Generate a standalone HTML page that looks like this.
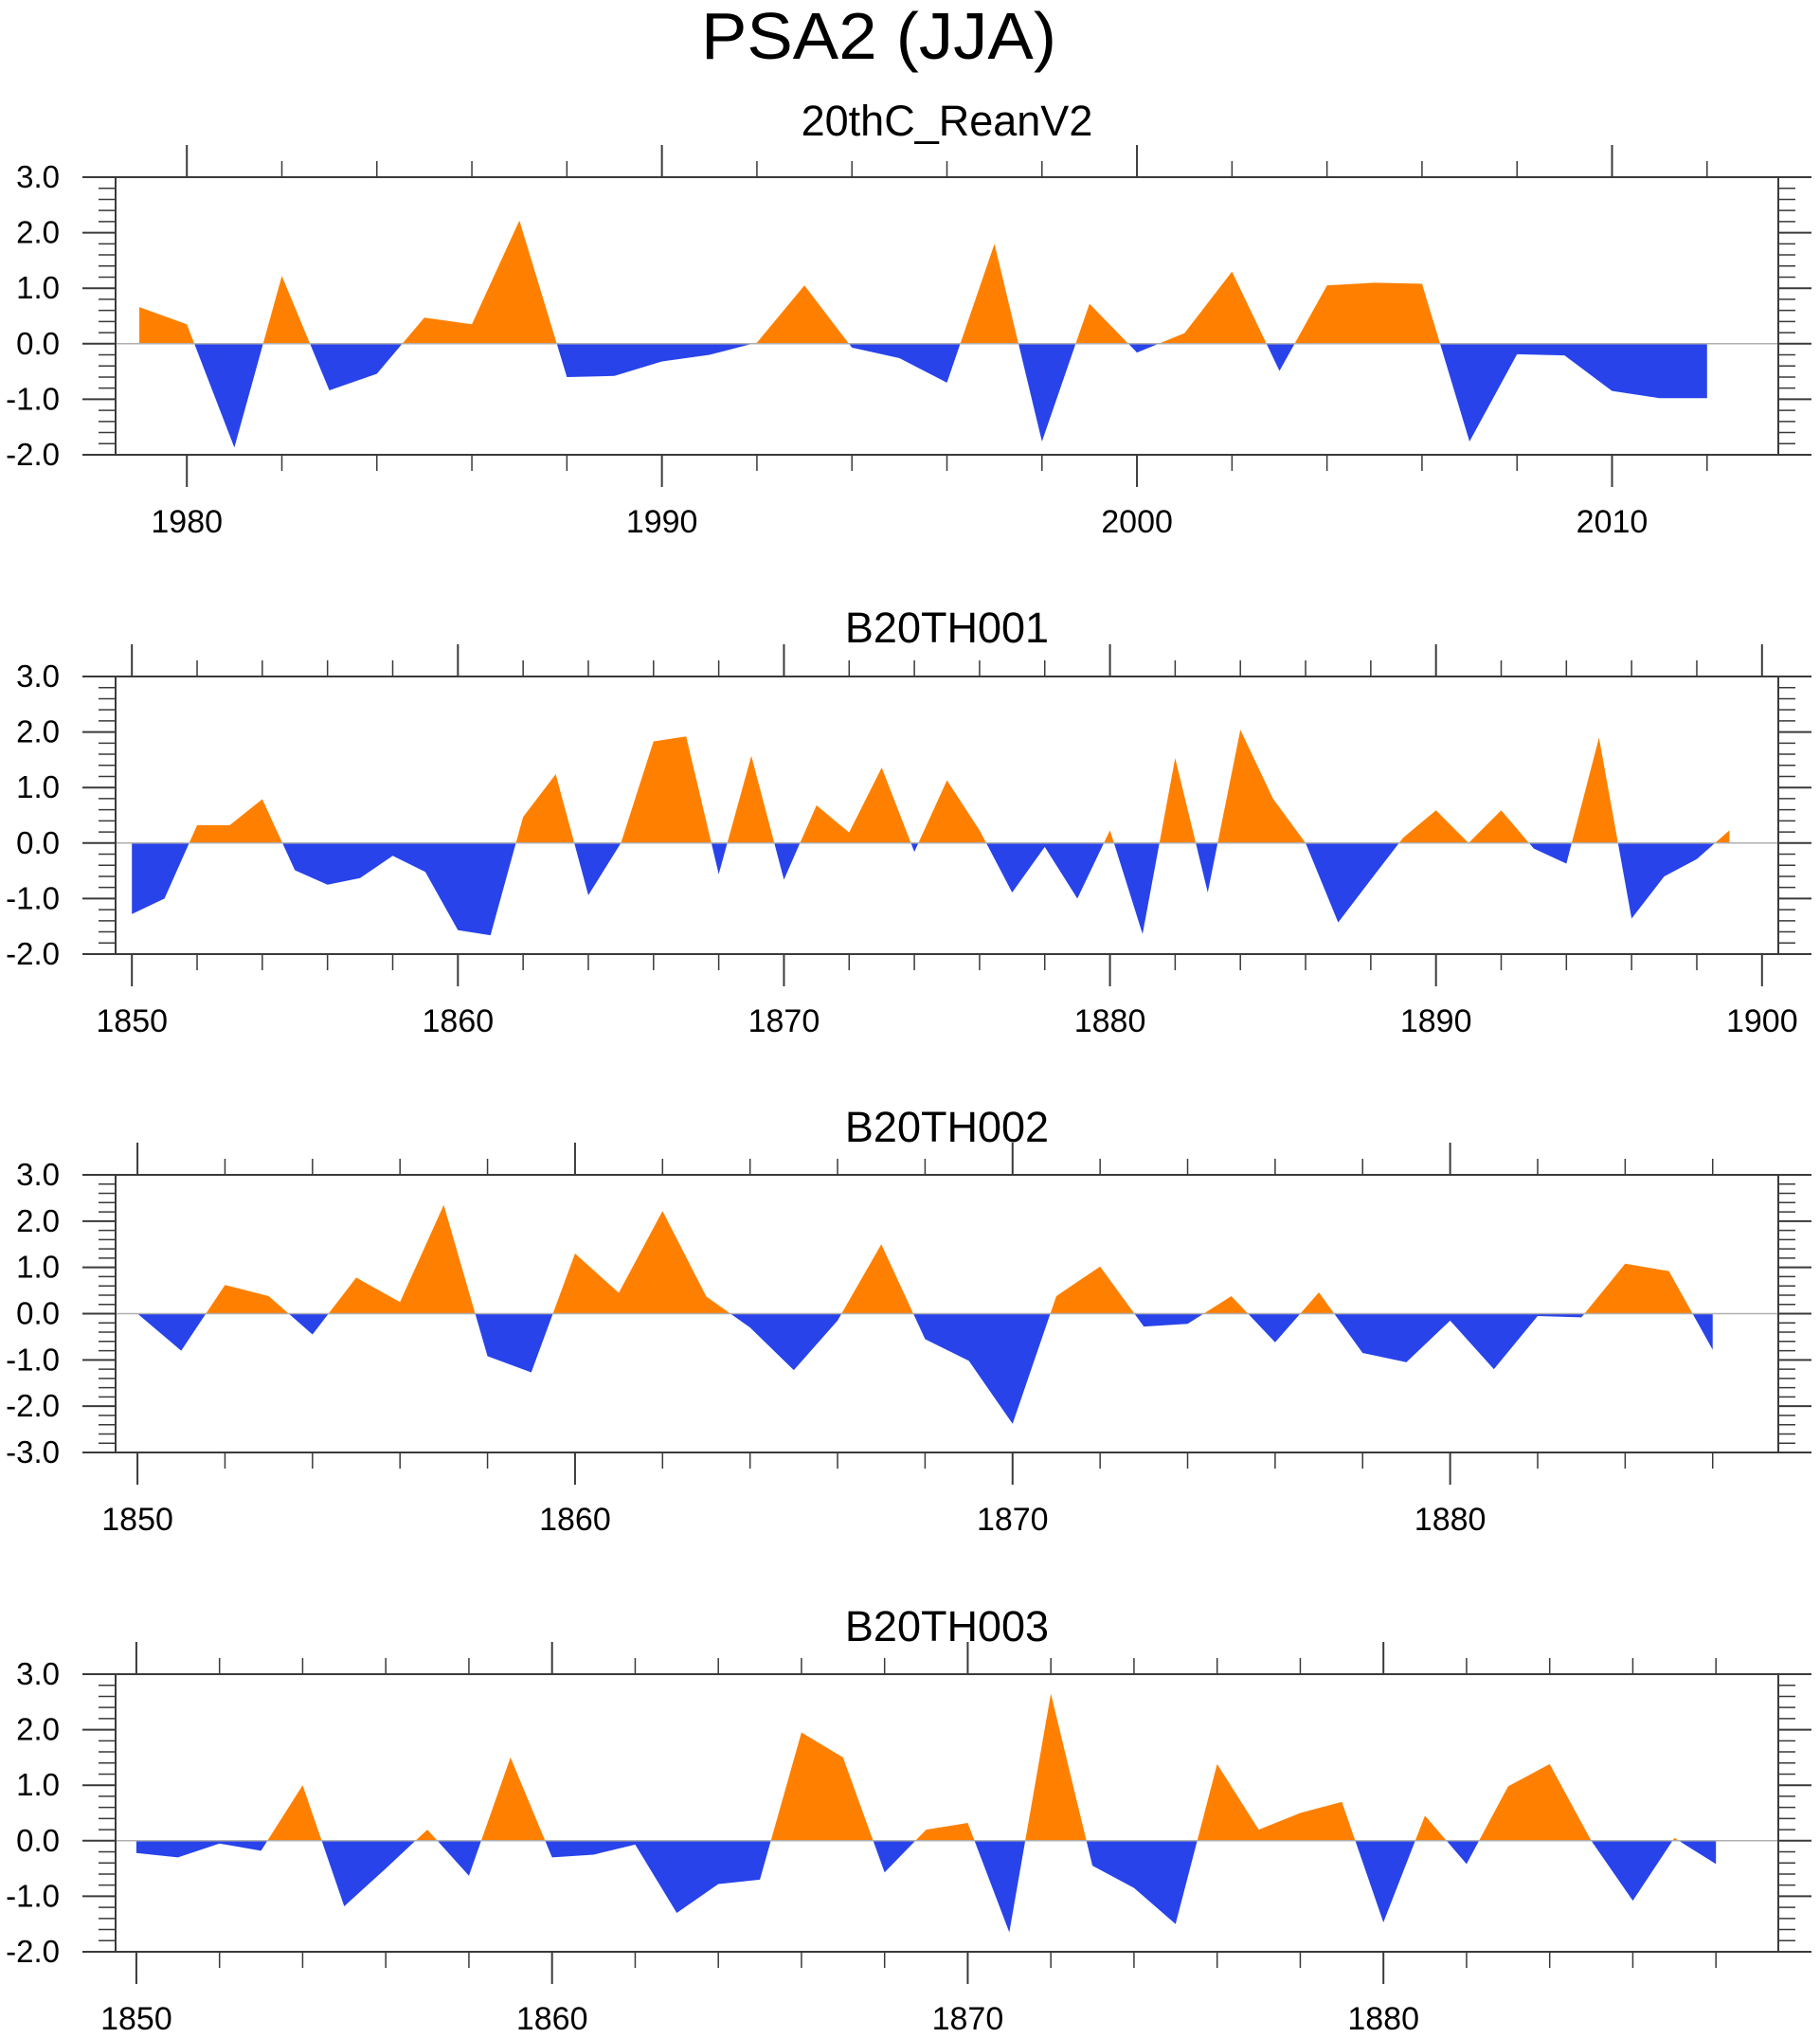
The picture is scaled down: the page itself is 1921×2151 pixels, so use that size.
<!DOCTYPE html>
<html><head><meta charset="utf-8"><title>PSA2 (JJA)</title>
<style>
html,body{margin:0;padding:0;background:#fff;}
svg{display:block;font-family:"Liberation Sans",Arial,sans-serif;}
</style></head>
<body>
<svg id="chart" width="1921" height="2151" viewBox="0 0 1921 2151" xmlns="http://www.w3.org/2000/svg">
<rect width="1921" height="2151" fill="#fff"/>
<text x="740" y="62" font-size="70" textLength="375" lengthAdjust="spacingAndGlyphs" fill="#000">PSA2 (JJA)</text>
</svg>
<script>
// ---- data ----
const titles = ["20thC_ReanV2","B20TH001","B20TH002","B20TH003"];
const startYears = [1979, 1850, 1850, 1850];
const yMins = [-2, -2, -3, -2];
const yMaxs = [3, 3, 3, 3];
const majorYearStep = 10;
const yTickLabels1 = ["-2.0","-1.0","0.0","1.0","2.0","3.0"];
const yTickLabels3 = ["-3.0","-2.0","-1.0","0.0","1.0","2.0","3.0"];
const reanV2 = [0.66,0.35,-1.87,1.22,-0.84,-0.54,0.47,0.35,2.22,-0.6,-0.58,-0.32,-0.2,0.02,1.05,-0.07,-0.26,-0.7,1.8,-1.76,0.72,-0.16,0.19,1.3,-0.49,1.05,1.1,1.08,-1.76,-0.19,-0.21,-0.85,-0.98,-0.98];
const b20th001 = [-1.28,-1.0,0.32,0.32,0.79,-0.49,-0.75,-0.63,-0.23,-0.52,-1.57,-1.66,0.47,1.24,-0.94,0.0,1.83,1.92,-0.56,1.57,-0.66,0.68,0.19,1.36,-0.16,1.13,0.23,-0.89,-0.07,-1.0,0.23,-1.64,1.53,-0.89,2.04,0.8,0.0,-1.43,-0.66,0.1,0.59,0.0,0.59,-0.1,-0.37,1.9,-1.36,-0.6,-0.29,0.23];
const b20th002 = [0.0,-0.8,0.62,0.38,-0.45,0.78,0.25,2.35,-0.92,-1.27,1.3,0.45,2.22,0.37,-0.3,-1.22,-0.15,1.5,-0.55,-1.02,-2.38,0.38,1.02,-0.28,-0.22,0.38,-0.62,0.46,-0.85,-1.05,-0.15,-1.2,-0.05,-0.08,1.08,0.92,-0.78];
const b20th003 = [-0.22,-0.3,-0.05,-0.18,1.0,-1.18,-0.5,0.2,-0.63,1.5,-0.3,-0.25,-0.07,-1.3,-0.78,-0.7,1.95,1.5,-0.57,0.2,0.32,-1.65,2.65,-0.45,-0.85,-1.5,1.38,0.2,0.5,0.7,-1.47,0.45,-0.42,0.98,1.38,0.0,-1.08,0.05,-0.42];
const seriesList = [reanV2, b20th001, b20th002, b20th003];

// ---- layout ----
const NS = "http://www.w3.org/2000/svg";
const svg = document.getElementById("chart");
const boxL = 122, boxR = 1877;
const boxTops = [187, 714, 1240, 1767];
const boxH = 293;
const titleBase = [143, 678, 1205, 1732];
const POS = "#FF8000", NEG = "#2843EA", TICK = "#3a3a3a";

function mk(tag, attrs, parent) {
  const e = document.createElementNS(NS, tag);
  for (const k in attrs) e.setAttribute(k, attrs[k]);
  (parent || svg).appendChild(e);
  return e;
}

for (let p = 0; p < 4; p++) {
  const data = seriesList[p];
  const y0 = startYears[p];
  const xMin = y0 - 0.5, xMax = y0 + data.length + 0.5;
  const top = boxTops[p], bot = top + boxH;
  const ymin = yMins[p], ymax = yMaxs[p];
  const X = yr => boxL + (yr - xMin) / (xMax - xMin) * (boxR - boxL);
  const Y = v => bot - (v - ymin) / (ymax - ymin) * boxH;

  const g = mk("g", {});
  
  

  const t = mk("text", {x: (boxL + boxR) / 2, y: titleBase[p], "font-size": 45, "text-anchor": "middle", fill: "#000"}, g);
  t.textContent = titles[p];
  
  

  const pts = [];
  for (let i = 0; i < data.length; i++) {
    const v = data[i];
    if (i > 0) {
      const pv = data[i - 1];
      if ((pv > 0 && v < 0) || (pv < 0 && v > 0)) {
        const f = pv / (pv - v);
        pts.push([y0 + i - 1 + f, 0]);
      }
    }
    pts.push([y0 + i, v]);
  }
  const first = pts[0][0], last = pts[pts.length - 1][0];
  function areaPath(fn) {
    let d = "M" + X(first) + "," + Y(0);
    for (const q of pts) d += " L" + X(q[0]).toFixed(2) + "," + Y(fn(q[1])).toFixed(2);
    d += " L" + X(last) + "," + Y(0) + " Z";
    return d;
  }
  const pa = mk("path", {d: areaPath(v => Math.max(v, 0)), fill: POS}, g);
  
  
  const na = mk("path", {d: areaPath(v => Math.min(v, 0)), fill: NEG}, g);
  
  

  const zl = mk("line", {x1: boxL, x2: boxR, y1: Y(0), y2: Y(0), stroke: "#b0b0b0", "stroke-width": 1.5}, g);
  
  

  const box = mk("rect", {x: boxL, y: top, width: boxR - boxL, height: boxH, fill: "none", stroke: TICK, "stroke-width": 2}, g);
  
  

  const nMinor = Math.round((ymax - ymin) / 0.2);
  for (let k = 0; k <= nMinor; k++) {
    const v = ymin + k * 0.2;
    const major = k % 5 === 0;
    const len = major ? 35 : 18;
    const yy = Y(v);
    mk("line", {x1: boxL - len, x2: boxL, y1: yy, y2: yy, stroke: TICK, "stroke-width": major ? 2 : 1.5}, g);
    mk("line", {x1: boxR, x2: boxR + len, y1: yy, y2: yy, stroke: TICK, "stroke-width": major ? 2 : 1.5}, g);
  }
  const ylabs = ymin === -3 ? yTickLabels3 : yTickLabels1;
  ylabs.forEach((lab, i) => {
    const yl = mk("text", {x: 63, y: Y(ymin + i) + 11, "font-size": 33, "text-anchor": "end", fill: "#000"}, g);
    yl.textContent = lab;
    
    
  });

  for (let yr = Math.ceil(xMin); yr <= xMax; yr++) {
    if (yr % 2 !== 0) continue;
    const major = yr % majorYearStep === 0;
    const len = major ? 34 : 17;
    const xx = X(yr);
    mk("line", {x1: xx, x2: xx, y1: top - len, y2: top, stroke: TICK, "stroke-width": major ? 2 : 1.5}, g);
    mk("line", {x1: xx, x2: xx, y1: bot, y2: bot + len, stroke: TICK, "stroke-width": major ? 2 : 1.5}, g);
    if (major) {
      const xl = mk("text", {x: xx, y: bot + 82, "font-size": 34, "text-anchor": "middle", fill: "#000"}, g);
      xl.textContent = String(yr);
      
      
    }
  }
}
</script>
</body></html>
